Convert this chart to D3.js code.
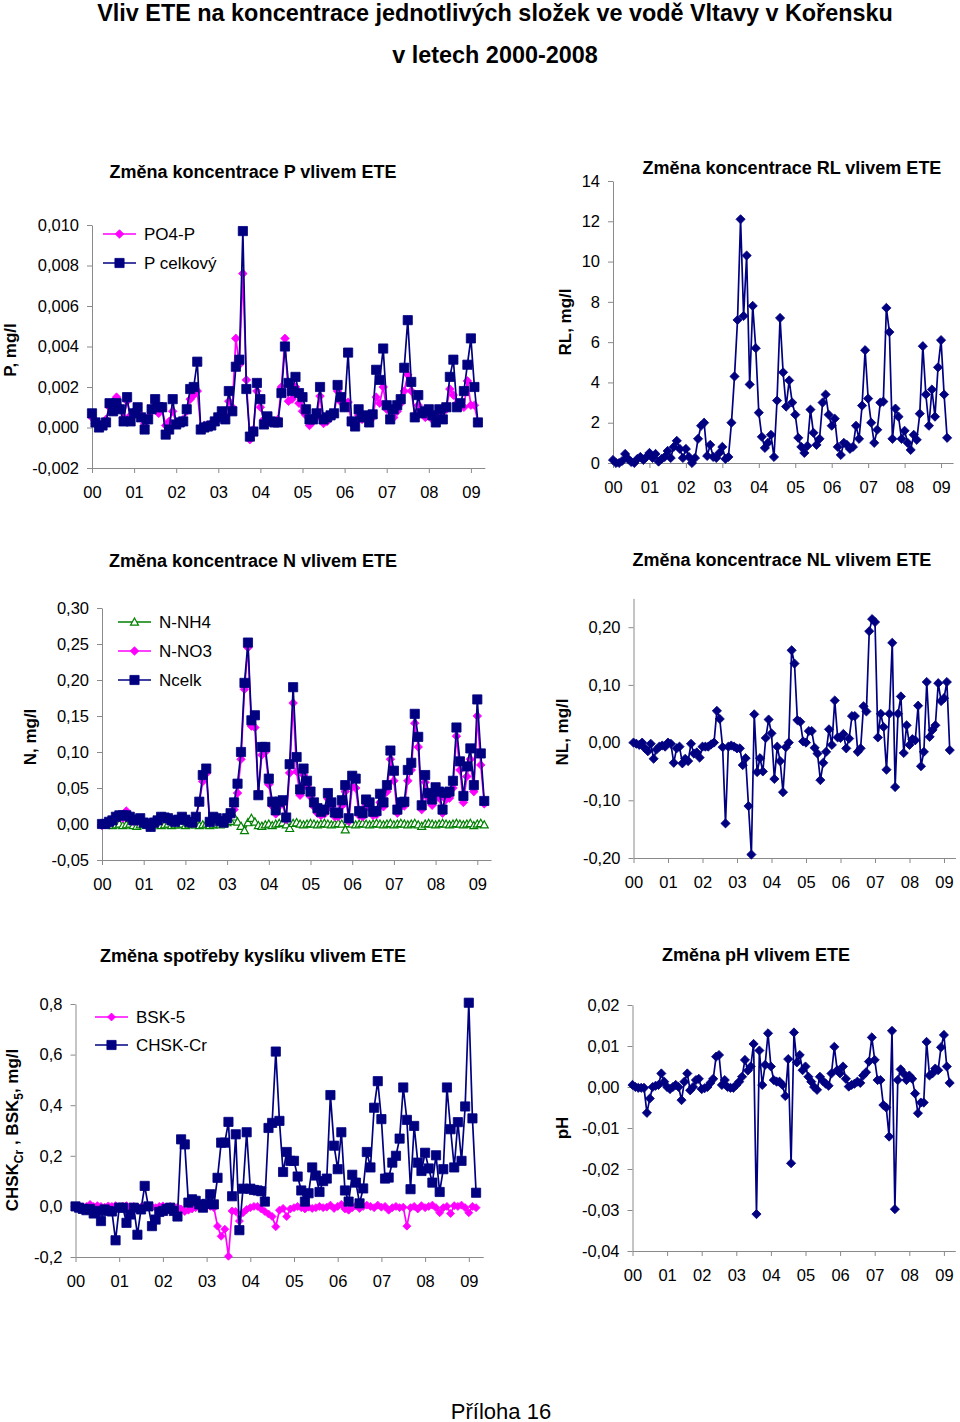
<!DOCTYPE html>
<html><head><meta charset="utf-8">
<script src="https://cdn.jsdelivr.net/npm/d3@7"></script>
<style>body{margin:0;background:#fff}svg{display:block}</style>
</head><body><svg id="c" width="960" height="1422"></svg>
<script>
// ---------- DATA (monthly values, Jan 2000 = index 0) ----------
const yearLabels = ["00","01","02","03","04","05","06","07","08","09"];

const po4P = [
 .0005,.0002,.0001,.0002,.0004,.0010,.0008,.0015,.0010,.0005,.0013,.0006,
 .0008,.0010,.0006,.0002,.0005,.0008,.0011,.0007,.0009,.0001,.0003,.0008,
 .0002,.0003,.0004,.0008,.0014,.0016,.0018,.0000,.0001,.0001,.0002,.0003,
 .0005,.0007,.0006,.0013,.0010,.0044,.0031,.0076,.00235,-.0006,-.0001,.0018,
 .0010,.0004,.0005,.0003,.0003,.0004,.0020,.0044,.0013,.0014,.0020,.0012,
 .0008,.0006,.0001,.0003,.0005,.00155,.0002,.0003,.0005,.0006,.0018,.00125,
 .0010,.00125,.0002,.0001,.0006,.0004,.0005,.0003,.0005,.0015,.0012,.0020,
 .0009,.0005,.0005,.0008,.0012,.0018,.0026,.0018,.0006,.0011,.0007,.0005,
 .0006,.0004,.0003,.0006,.0005,.0009,.0019,.0016,.0012,.0010,.0010,.0023,
 .0011,.0011,.00025];
const pCelkovy = [
 .0007,.00025,0,.0001,.00025,.0012,.0008,.0012,.0009,.0003,.0015,.0003,
 .0007,.0010,.0005,-.0001,.0004,.0009,.0014,.0010,.0010,-.00035,-.0001,.0014,
 .00015,.00025,.0003,.0009,.0019,.0020,.00325,-.0001,0,.00005,.0001,.0003,
 .0005,.0008,.0004,.0018,.0008,.0030,.00335,.0097,.0019,-.00045,-.0002,.0022,
 .0014,.00015,.00055,.0003,.00025,.00025,.0017,.0040,.0022,.0018,.0025,.0017,
 .0015,.0009,.0004,.0004,.0007,.0020,.0004,.0005,.0006,.0007,.0021,.0015,
 .0010,.0037,.0003,.00005,.0009,.0005,.0006,.00025,.00065,.00285,.00235,.0039,
 .0011,.0004,.0009,.0011,.0014,.00295,.0053,.00225,.0005,.0016,.0007,.0008,
 .0009,.0006,.00025,.0009,.0004,.0010,.0025,.00335,.0010,.0012,.0018,.0031,
 .0044,.0020,.00025];

const rl = [
 .15,0,0,.1,.45,.2,.05,0,.2,.3,.15,.3,
 .5,.25,.45,.07,.2,.3,.6,.25,.8,1.1,.7,.25,
 .7,.3,0,.25,1.2,1.85,2.0,.35,.9,.3,.25,.5,
 .8,.2,.3,2.0,4.3,7.1,12.1,7.3,10.3,3.9,7.8,5.7,
 2.5,1.3,.75,1.0,1.4,.3,3.1,7.2,4.5,2.8,4.1,3.0,
 2.4,1.25,.8,.5,.85,2.65,1.5,.9,1.2,3.0,3.4,2.4,
 1.85,2.2,.8,.4,1.0,.9,.7,.8,1.85,1.2,2.85,5.6,
 3.2,2.0,1.0,1.65,3.0,3.05,7.7,6.5,1.2,2.7,2.3,1.2,
 1.6,1.0,.65,1.4,1.15,2.45,5.8,3.4,1.85,3.65,2.3,4.75,
 6.1,3.4,1.25];

const nNH4 = [
 0,-.001,0,-.002,-.001,0,-.002,-.001,0,-.002,-.003,-.001,
 0,-.001,-.002,0,-.001,-.002,-.001,0,-.002,-.001,-.001,0,
 -.002,-.001,0,-.001,-.002,-.001,0,-.002,-.001,0,-.001,0,
 .002,.004,.010,.003,-.003,-.009,.002,.008,.003,-.002,-.003,-.001,
 0,-.002,0,.001,.002,-.001,-.006,.001,.002,0,-.001,0,
 .001,0,-.001,0,.001,0,-.001,0,.001,0,-.008,.001,
 0,-.001,0,.001,0,-.001,0,.001,0,-.001,0,.001,
 -.001,0,.001,0,-.001,0,.001,-.001,-.003,0,.001,0,
 -.001,0,.001,0,-.001,0,.001,0,-.001,0,.001,-.002,
 0,.001,-.001];
const nNO3 = [
 -.002,0,.002,.004,.008,.010,.008,.018,.008,.004,.004,.006,
 .002,-.001,-.004,.001,.004,.008,.007,.006,.004,.002,.005,.008,
 .005,.002,.001,.008,.030,.059,.070,.002,.008,.006,.003,.001,
 .006,.012,.020,.043,.090,.187,.245,.136,.134,.043,.096,.100,
 .055,.025,.014,.025,.028,.006,.071,.168,.073,.040,.068,.052,
 .038,.024,.015,.012,.014,.035,.022,.010,.010,.025,.045,.004,
 .052,.050,.012,.010,.026,.022,.012,.013,.030,.024,.045,.090,
 .060,.015,.024,.025,.060,.075,.140,.107,.020,.058,.035,.026,
 .042,.036,.015,.034,.036,.050,.122,.075,.030,.066,.090,.045,
 .150,.082,.028];
const nCelk = [
 0,0,.003,.005,.010,.012,.012,.012,.010,.005,.006,.008,
 .002,0,-.004,.002,.005,.010,.009,.008,.005,.003,.006,.010,
 .006,.003,.002,.010,.031,.068,.077,.003,.010,.008,.004,.002,
 .008,.015,.030,.056,.100,.196,.252,.144,.151,.040,.107,.107,
 .063,.031,.019,.031,.033,.009,.083,.190,.093,.048,.077,.060,
 .045,.030,.022,.017,.020,.043,.030,.016,.015,.033,.054,.008,
 .067,.063,.018,.015,.034,.030,.017,.018,.042,.030,.054,.102,
 .074,.020,.030,.031,.075,.085,.153,.121,.026,.068,.043,.034,
 .051,.045,.020,.043,.045,.060,.134,.087,.039,.080,.105,.054,
 .173,.098,.032];

const nl = [
 0,-.002,-.004,0,-.010,-.015,-.002,-.028,-.012,-.007,-.005,-.007,
 0,-.002,-.035,-.010,-.007,-.036,-.028,-.032,-.002,-.019,-.017,-.026,
 -.007,-.007,-.007,-.003,0,.055,.041,-.008,-.140,-.007,-.005,-.007,
 -.010,-.010,-.039,-.027,-.110,-.194,.049,-.051,-.027,-.050,.008,.040,
 .016,-.063,-.007,-.032,-.086,-.008,0,.160,.137,.039,.036,.002,
 0,.020,.020,-.009,-.019,-.065,-.035,-.016,.023,-.004,.073,.009,
 .008,.015,-.010,.007,.046,.046,-.016,-.010,.063,.054,.193,.214,
 .209,.009,.050,.027,-.047,.050,.173,-.077,.050,.080,-.018,.030,
 -.004,.006,.004,.064,-.041,-.016,.105,.010,.022,.030,.103,.072,
 .077,.105,-.013];

const bsk5 = [
 0,-.003,-.002,0,.008,0,.003,0,-.003,.002,0,.003,
 -.002,0,.003,-.002,0,-.003,-.002,0,.002,-.002,-.005,0,
 .002,-.003,0,-.002,-.003,-.010,-.020,-.015,-.010,-.005,-.003,0,
 .002,0,-.005,-.078,-.118,-.090,-.197,-.018,-.020,-.058,-.025,-.012,
 -.005,0,0,-.010,-.020,-.030,-.040,-.080,-.015,-.008,-.040,-.010,
 -.005,0,-.005,-.010,-.003,-.008,-.005,0,-.005,-.003,.005,-.008,
 0,.008,-.010,-.015,-.005,.003,-.008,0,.005,0,-.005,.005,
 -.003,0,-.015,-.005,0,-.005,-.003,-.078,-.005,0,-.010,.003,
 -.005,0,.005,-.005,-.025,-.005,0,-.028,.003,0,.005,-.005,
 -.025,0,-.005];
const chskCr = [
 0,-.005,-.010,-.015,-.010,-.028,-.018,-.058,-.012,-.018,-.020,-.134,
 -.005,-.005,-.065,-.032,-.005,-.112,-.012,.081,0,-.078,-.052,-.022,
 -.018,-.010,-.005,-.018,-.040,.265,.245,.015,.028,.022,.008,-.005,
 .010,.048,.008,.113,.252,.252,.334,.040,.285,-.094,.070,.293,
 .070,.065,.063,.060,.019,.310,.330,.612,.338,.136,.215,.180,
 .180,.118,.063,.019,.052,.154,.122,.057,.100,.110,.440,.240,
 .147,.293,.063,.019,.125,.094,.012,.071,.215,.154,.390,.495,
 .345,.110,.114,.173,.200,.268,.470,.342,.068,.318,.173,.140,
 .212,.150,.094,.202,.057,.147,.470,.305,.154,.333,.180,.395,
 .805,.348,.054];

const ph = [
 .0005,0,-.0002,-.0002,-.0002,-.0063,-.0028,0,.0003,.0005,.0033,.0013,
 0,-.0005,0,.0005,0,-.0032,.0013,.0033,-.0008,0,.0017,.0020,
 -.0005,-.0003,0,.0010,.0020,.0074,.0078,.0005,.0017,0,-.0002,-.0002,
 .0005,.0013,.0025,.0066,.0040,.0050,.0105,-.0310,.0089,.0005,.0054,.0131,
 .0050,.0017,.0013,.0013,.0005,-.0022,.0068,-.0186,.0133,.0060,.0078,.0041,
 .0050,.0025,.0013,0,-.0007,.0025,.0015,.0008,.0003,.0033,.0098,.0041,
 .0033,.0050,.0020,.0001,.0005,.0008,.0013,.0010,.0028,.0036,.0062,.0121,
 .0066,.0017,.0017,-.0044,-.0050,-.0121,.0137,-.0298,.0017,.0043,.0033,.0017,
 .0028,.0020,-.0016,-.0064,-.0038,-.0038,.0110,.0028,.0033,.0045,.0041,.0097,
 .0127,.0050,.0010];

const pTicks   = [-0.002, 0, 0.002, 0.004, 0.006, 0.008, 0.010];
const rlTicks  = [0, 2, 4, 6, 8, 10, 12, 14];
const nTicks   = [-0.05, 0, 0.05, 0.10, 0.15, 0.20, 0.25, 0.30];
const nlTicks  = [-0.2, -0.1, 0, 0.1, 0.2];
const bskTicks = [-0.2, 0, 0.2, 0.4, 0.6, 0.8];
const phTicks  = [-0.04, -0.03, -0.02, -0.01, 0, 0.01, 0.02];

// ---------- DRAWING ----------
const FONT = '"Liberation Sans", Arial, Helvetica, sans-serif';
const NAVY = "#000080", MAG = "#FF00FF", GREEN = "#008000", AXIS = "#8a8a8a";
const cz = d3.formatLocale({decimal: ",", thousands: "\u00a0", grouping: [3], currency: ["", ""], minus: "-"});
const svg = d3.select("#c").style("font-family", FONT);

function shape(type, r) {
  if (type === "square") return `M${-r},${-r}H${r}V${r}H${-r}Z`;
  if (type === "diamond") return `M0,${-r}L${r},0L0,${r}L${-r},0Z`;
  return `M0,${-r}L${r},${r * 0.8}L${-r},${r * 0.8}Z`;
}

function drawPanel(c) {
  const xEnd = 9.33;
  const x = d3.scaleLinear().domain([0, xEnd]).range([c.left, c.left + c.yearPx * xEnd]);
  const y = d3.scaleLinear().domain([c.ticks[0], c.yMax]).range([c.bottom, c.top]);
  const g = svg.append("g");

  const xa = g.append("g").attr("transform", `translate(0,${c.bottom})`)
    .call(d3.axisBottom(x).tickValues(yearLabels.map((_, i) => i))
      .tickFormat(i => yearLabels[i]).tickSize(5).tickSizeOuter(0).tickPadding(13));
  const ya = g.append("g").attr("transform", `translate(${c.left},0)`)
    .call(d3.axisLeft(y).tickValues(c.ticks).tickFormat(cz.format(c.fmt)).tickSize(5).tickSizeOuter(0).tickPadding(8));
  [xa, ya].forEach(a => {
    a.attr("font-family", FONT).attr("font-size", 16.5);
    a.selectAll("path,line").attr("stroke", AXIS).attr("stroke-width", 1);
    a.selectAll("text").attr("fill", "#000");
  });

  c.series.forEach(s => {
    const line = d3.line().x((d, i) => x(i / 12)).y(d => y(d));
    g.append("path").datum(s.values).attr("d", line).attr("fill", "none")
      .attr("stroke", s.color).attr("stroke-width", 1.7).attr("stroke-linejoin", "round");
    g.selectAll(null).data(s.values).join("path")
      .attr("transform", (d, i) => `translate(${x(i / 12)},${y(d)})`)
      .attr("d", shape(s.marker, s.r))
      .attr("fill", s.hollow ? "#fff" : s.color)
      .attr("stroke", s.color).attr("stroke-width", s.hollow ? 1.2 : 0.8);
  });

  if (c.legend) {
    c.series.forEach((s, i) => {
      const ly = c.legend.y + i * c.legend.dy;
      const lx = c.legend.x;
      g.append("line").attr("x1", lx).attr("x2", lx + 33).attr("y1", ly).attr("y2", ly)
        .attr("stroke", s.color).attr("stroke-width", 1.7);
      g.append("path").attr("transform", `translate(${lx + 16.5},${ly})`).attr("d", shape(s.marker, s.r))
        .attr("fill", s.hollow ? "#fff" : s.color).attr("stroke", s.color).attr("stroke-width", s.hollow ? 1.2 : 0.8);
      g.append("text").attr("x", lx + 41).attr("y", ly).attr("dominant-baseline", "central")
        .attr("font-size", 17).text(s.name);
    });
  }

  g.append("text").attr("x", c.title[1]).attr("y", c.title[2]).attr("text-anchor", "middle")
    .attr("dominant-baseline", "central").attr("font-weight", "bold").attr("font-size", 18).text(c.title[0]);

  const yl = g.append("text").attr("transform", `translate(${c.ylab[1]},${c.ylab[2]}) rotate(-90)`)
    .attr("text-anchor", "middle").attr("dominant-baseline", "central")
    .attr("font-weight", "bold").attr("font-size", 17);
  if (Array.isArray(c.ylab[0])) {
    c.ylab[0].forEach(p => {
      const t = yl.append("tspan").text(p.t);
      if (p.sub) t.attr("font-size", 12).attr("baseline-shift", "sub");
    });
  } else yl.text(c.ylab[0]);
}

// main title
svg.append("text").attr("x", 495).attr("y", 13).attr("text-anchor", "middle").attr("dominant-baseline", "central")
  .attr("font-weight", "bold").attr("font-size", 23.4).text("Vliv ETE na koncentrace jednotlivých složek ve vodě Vltavy v Kořensku");
svg.append("text").attr("x", 495).attr("y", 55).attr("text-anchor", "middle").attr("dominant-baseline", "central")
  .attr("font-weight", "bold").attr("font-size", 23.4).text("v letech 2000-2008");

drawPanel({
  left: 92, yearPx: 42.1, bottom: 468, top: 225, yMax: 0.010, ticks: pTicks, fmt: ".3f",
  title: ["Změna koncentrace P vlivem ETE", 253, 172], ylab: ["P, mg/l", 10, 350],
  legend: {x: 103, y: 234, dy: 29},
  series: [
    {name: "PO4-P", values: po4P, color: MAG, marker: "diamond", r: 4.3},
    {name: "P celkový", values: pCelkovy, color: NAVY, marker: "square", r: 4.6}
  ]
});
drawPanel({
  left: 613, yearPx: 36.45, bottom: 463, top: 181, yMax: 14, ticks: rlTicks, fmt: "d",
  title: ["Změna koncentrace RL vlivem ETE", 792, 168], ylab: ["RL, mg/l", 565, 322],
  series: [{name: "RL", values: rl, color: NAVY, marker: "diamond", r: 4.6}]
});
drawPanel({
  left: 102, yearPx: 41.7, bottom: 860, top: 608, yMax: 0.30, ticks: nTicks, fmt: ".2f",
  title: ["Změna koncentrace N vlivem ETE", 253, 561], ylab: ["N, mg/l", 30, 737],
  legend: {x: 118, y: 622, dy: 29},
  series: [
    {name: "N-NH4", values: nNH4, color: GREEN, marker: "triangle", r: 4, hollow: true},
    {name: "N-NO3", values: nNO3, color: MAG, marker: "diamond", r: 4.3},
    {name: "Ncelk", values: nCelk, color: NAVY, marker: "square", r: 4.6}
  ]
});
drawPanel({
  left: 633.5, yearPx: 34.5, bottom: 858, top: 858 - 0.45 * 577, yMax: 0.25, ticks: nlTicks, fmt: ".2f",
  title: ["Změna koncentrace NL vlivem ETE", 782, 560], ylab: ["NL, mg/l", 562, 732],
  series: [{name: "NL", values: nl, color: NAVY, marker: "diamond", r: 4.6}]
});
drawPanel({
  left: 75.5, yearPx: 43.7, bottom: 1257, top: 1004, yMax: 0.8, ticks: bskTicks, fmt: ".1f",
  title: ["Změna spotřeby kyslíku vlivem ETE", 253, 956],
  ylab: [[{t: "CHSK"}, {t: "Cr", sub: true}, {t: " , BSK"}, {t: "5", sub: true}, {t: ", mg/l"}], 12, 1130],
  legend: {x: 95, y: 1017, dy: 28},
  series: [
    {name: "BSK-5", values: bsk5, color: MAG, marker: "diamond", r: 4},
    {name: "CHSK-Cr", values: chskCr, color: NAVY, marker: "square", r: 4.6}
  ]
});
drawPanel({
  left: 632.5, yearPx: 34.6, bottom: 1251, top: 1005, yMax: 0.02, ticks: phTicks, fmt: ".2f",
  title: ["Změna pH vlivem ETE", 756, 955], ylab: ["pH", 562, 1128],
  series: [{name: "pH", values: ph, color: NAVY, marker: "diamond", r: 4.6}]
});

svg.append("text").attr("x", 501).attr("y", 1411).attr("text-anchor", "middle").attr("dominant-baseline", "central")
  .attr("font-size", 22).text("Příloha 16");
</script></body></html>
